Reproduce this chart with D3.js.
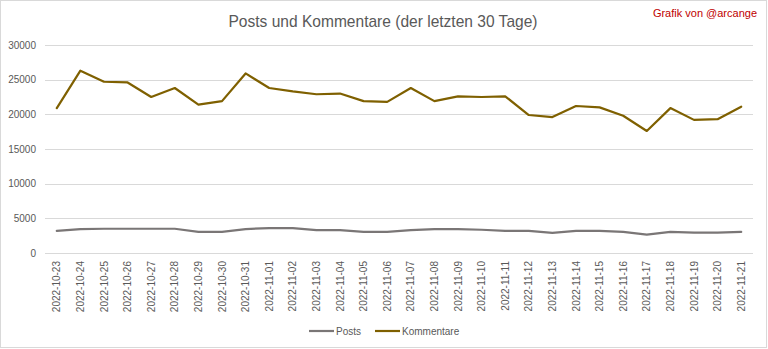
<!DOCTYPE html>
<html>
<head>
<meta charset="utf-8">
<script src="https://cdn.jsdelivr.net/npm/d3@7"></script>
<style>
  html, body { margin: 0; padding: 0; background: #fff; }
  svg { display: block; font-family: "Liberation Sans", Arial, sans-serif; }
</style>
</head>
<body>
<svg id="chart" width="768" height="349"></svg>
<script>
// Daily counts over the last 30 days
const dates = [
  "2022-10-23","2022-10-24","2022-10-25","2022-10-26","2022-10-27","2022-10-28",
  "2022-10-29","2022-10-30","2022-10-31","2022-11-01","2022-11-02","2022-11-03",
  "2022-11-04","2022-11-05","2022-11-06","2022-11-07","2022-11-08","2022-11-09",
  "2022-11-10","2022-11-11","2022-11-12","2022-11-13","2022-11-14","2022-11-15",
  "2022-11-16","2022-11-17","2022-11-18","2022-11-19","2022-11-20","2022-11-21"
];
const posts = [
  3200, 3450, 3500, 3500, 3500, 3500, 3050, 3050, 3450, 3600,
  3600, 3300, 3300, 3050, 3050, 3300, 3450, 3450, 3350, 3200,
  3200, 2900, 3200, 3200, 3050, 2650, 3050, 2950, 2950, 3050
];
const kommentare = [
  20900, 26300, 24700, 24600, 22500, 23800, 21400, 21900, 25900, 23800,
  23300, 22900, 23000, 21900, 21800, 23800, 21900, 22600, 22500, 22600,
  19900, 19600, 21200, 21000, 19800, 17600, 20900, 19200, 19300, 21100
];
const yTicks = [0, 5000, 10000, 15000, 20000, 25000, 30000];

const seriesList = [
  { name: "Posts", values: posts, color: "#7a7676" },
  { name: "Kommentare", values: kommentare, color: "#7f6000" }
];

const W = 768, H = 349;
const plot = { left: 45, right: 753, top: 45, bottom: 253 };
const svg = d3.select("#chart");

// chart frame
svg.append("rect")
  .attr("x", 0.5).attr("y", 0.5)
  .attr("width", W - 2).attr("height", H - 2)
  .attr("fill", "#fff").attr("stroke", "#d9d9d9");

const x = d3.scaleBand().domain(dates).range([plot.left, plot.right]);
const y = d3.scaleLinear().domain([0, 30000]).range([plot.bottom, plot.top]);

// horizontal gridlines
svg.append("g").selectAll("line").data(yTicks).join("line")
  .attr("x1", plot.left).attr("x2", plot.right)
  .attr("y1", d => Math.round(y(d)) + 0.5).attr("y2", d => Math.round(y(d)) + 0.5)
  .attr("stroke", "#d9d9d9").attr("stroke-width", 1);

// y axis labels
const yAxis = d3.axisLeft(y).tickValues(yTicks).tickSize(0).tickPadding(0)
  .tickFormat(d3.format("d"));
const gy = svg.append("g").attr("transform", `translate(${plot.left - 9},0)`).call(yAxis);
gy.select(".domain").remove();
gy.selectAll("text").attr("fill", "#595959").attr("font-size", 10)
  .attr("font-family", "Liberation Sans, Arial, sans-serif");

// x axis labels, rotated
const xAxis = d3.axisBottom(x).tickSize(0).tickPadding(0);
const gx = svg.append("g").attr("transform", `translate(0,${plot.bottom})`).call(xAxis);
gx.select(".domain").remove();
gx.selectAll("text")
  .attr("fill", "#595959").attr("font-size", 10)
  .attr("font-family", "Liberation Sans, Arial, sans-serif")
  .attr("transform", "rotate(-90)")
  .attr("text-anchor", "end")
  .attr("dy", "0.35em")
  .attr("x", -8).attr("y", 0);

// series lines
const line = d3.line()
  .x((d, i) => x(dates[i]) + x.bandwidth() / 2)
  .y(d => y(d));
svg.append("g").selectAll("path").data(seriesList).join("path")
  .attr("d", s => line(s.values))
  .attr("fill", "none")
  .attr("stroke", s => s.color)
  .attr("stroke-width", 2.2)
  .attr("stroke-linejoin", "round")
  .attr("stroke-linecap", "round");

// title
svg.append("text")
  .attr("x", 383).attr("y", 26.5)
  .attr("text-anchor", "middle")
  .attr("fill", "#595959").attr("font-size", 17)
  .attr("textLength", 309).attr("lengthAdjust", "spacingAndGlyphs")
  .text("Posts und Kommentare (der letzten 30 Tage)");

svg.append("text")
  .attr("x", 757).attr("y", 17)
  .attr("text-anchor", "end")
  .attr("fill", "#c00000").attr("font-size", 11)
  .text("Grafik von @arcange");

// legend
const legend = svg.append("g");
const legendItems = [
  { s: seriesList[0], x: 309 },
  { s: seriesList[1], x: 375 }
];
legendItems.forEach(item => {
  legend.append("line")
    .attr("x1", item.x).attr("x2", item.x + 25)
    .attr("y1", 331).attr("y2", 331)
    .attr("stroke", item.s.color).attr("stroke-width", 2.2);
  legend.append("text")
    .attr("x", item.x + 27).attr("y", 334.5)
    .attr("fill", "#595959").attr("font-size", 10)
    .text(item.s.name);
});
</script>
</body>
</html>
